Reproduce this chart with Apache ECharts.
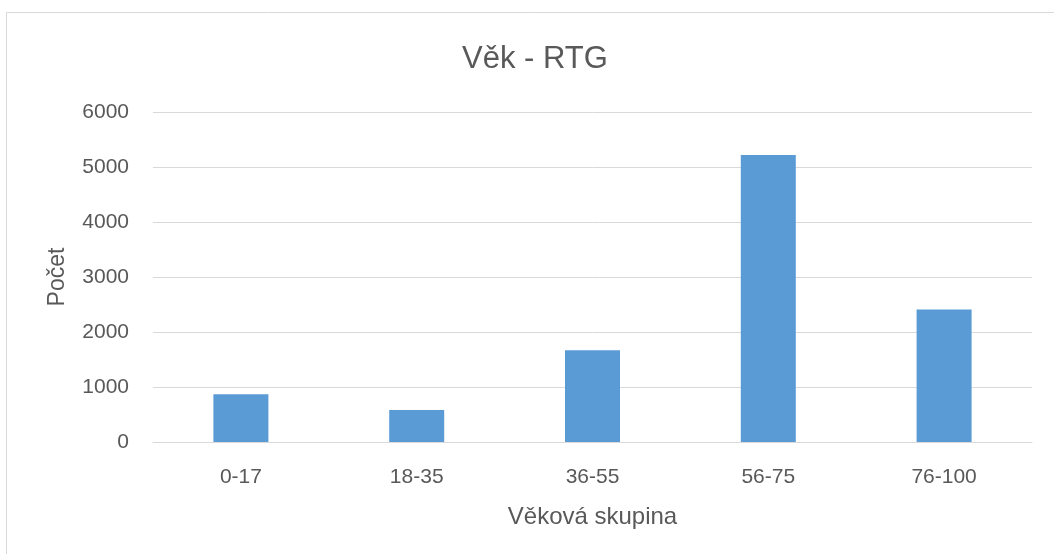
<!DOCTYPE html>
<html>
<head>
<meta charset="utf-8">
<script src="https://cdn.jsdelivr.net/npm/echarts@6/dist/echarts.min.js"></script>
<style>
html,body{margin:0;padding:0;background:#fff;}
#c{width:1054px;height:554px;}
</style>
</head>
<body>
<div id="c"></div>
<script>
const categories = ['0-17', '18-35', '36-55', '56-75', '76-100'];
const counts = [870, 580, 1670, 5220, 2410];
const yTicks = [0, 1000, 2000, 3000, 4000, 5000, 6000];
const titleText = 'Věk - RTG';
const xName = 'Věková skupina';
const yName = 'Počet';

const font = 'Liberation Sans, Arial, sans-serif';
const chart = echarts.init(document.getElementById('c'), null, {renderer: 'canvas'});
chart.setOption({
  animation: false,
  backgroundColor: '#ffffff',
  graphic: [{
    type: 'rect', silent: true,
    shape: {x: 6.5, y: 12.5, width: 1200, height: 700},
    style: {fill: 'none', stroke: '#d9d9d9', lineWidth: 1}
  }],
  title: {
    text: titleText, left: 457, top: 39,
    textStyle: {fontFamily: font, fontSize: 31, fontWeight: 'normal', color: '#595959'}
  },
  grid: {left: 153, right: 22, top: 112, bottom: 112, containLabel: false},
  xAxis: {
    type: 'category', data: categories,
    name: xName, nameLocation: 'middle', nameGap: 63,
    nameTextStyle: {fontFamily: font, fontSize: 24, color: '#595959'},
    axisLine: {show: true, lineStyle: {color: '#d9d9d9', width: 1}},
    axisTick: {show: false},
    axisLabel: {margin: 25, fontFamily: font, fontSize: 21, color: '#595959'}
  },
  yAxis: {
    type: 'value', min: yTicks[0], max: yTicks[yTicks.length - 1], interval: 1000,
    name: yName, nameLocation: 'middle', nameGap: 84, nameRotate: 90,
    nameTextStyle: {fontFamily: font, fontSize: 23, color: '#595959'},
    axisLine: {show: false}, axisTick: {show: false},
    axisLabel: {margin: 24, fontFamily: font, fontSize: 21, color: '#595959',
      formatter: function (v) { return String(v); }},
    splitLine: {lineStyle: {color: '#d9d9d9', width: 1}}
  },
  series: [{
    type: 'bar', data: counts, barWidth: 55,
    itemStyle: {color: '#5B9BD5'}
  }]
});
</script>
</body>
</html>
